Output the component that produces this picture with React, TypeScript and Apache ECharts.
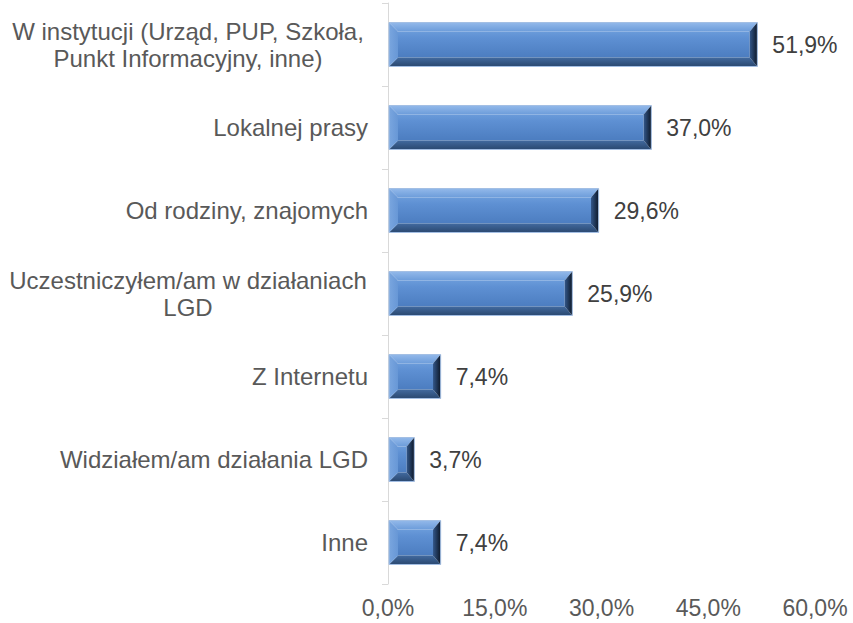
import React, { useEffect, useRef } from 'react';
import * as echarts from 'echarts';

const categories = [
  'W instytucji (Urząd, PUP, Szkoła,\nPunkt Informacyjny, inne)',
  'Lokalnej prasy',
  'Od rodziny, znajomych',
  'Uczestniczyłem/am w działaniach\nLGD',
  'Z Internetu',
  'Widziałem/am działania LGD',
  'Inne',
];
const values = [51.9, 37.0, 29.6, 25.9, 7.4, 3.7, 7.4];
const axisMin = 0;
const axisMax = 60;
const axisStep = 15;

const fmt = (v: number) => v.toFixed(1).replace('.', ',') + '%';

export default function App() {
  const ref = useRef<HTMLDivElement>(null);
  useEffect(() => {
    if (!ref.current) return;
    const chart = echarts.init(ref.current, null, { renderer: 'svg' });
    const textColor = '#595959';
    const font = 'Liberation Sans, Arial, sans-serif';
    const option: any = {
      animation: false,
      grid: { left: 388, right: 38, top: 3, bottom: 39, containLabel: false },
      xAxis: {
        type: 'value',
        min: axisMin,
        max: axisMax,
        interval: axisStep,
        axisLine: { show: false },
        axisTick: { show: false },
        splitLine: { show: false },
        axisLabel: {
          color: textColor,
          fontSize: 23,
          fontFamily: font,
          margin: 12,
          formatter: (v: number) => fmt(v),
        },
      },
      yAxis: {
        type: 'category',
        inverse: true,
        data: categories,
        axisLine: { show: true, lineStyle: { color: '#D9D9D9', width: 1 } },
        axisTick: { show: true, length: 6, lineStyle: { color: '#D9D9D9' } },
        axisLabel: {
          color: textColor,
          fontSize: 24,
          lineHeight: 27,
          fontFamily: font,
          margin: 20,
          formatter: (s: string) =>
            s.includes('\n')
              ? s.split('\n').map((l) => `{c|${l}}`).join('\n')
              : s,
          rich: {
            c: {
              width: 360,
              align: 'center',
              fontSize: 24,
              lineHeight: 27,
              color: textColor,
              fontFamily: font,
            },
          },
        },
      },
      series: [
        {
          type: 'custom',
          data: values.map((v, i) => [v, i]),
          encode: { x: 0, y: 1 },
          renderItem: (params: any, api: any) => {
            const v = api.value(0);
            const idx = api.value(1);
            const p0 = api.coord([0, idx]);
            const p1 = api.coord([v, idx]);
            const band = api.size([0, 1])[1];
            const h = band * 0.53;
            const x0 = p0[0] + 1;
            const x1 = p1[0];
            const y0 = p0[1] - h / 2;
            const y1 = p0[1] + h / 2;
            const b = Math.min(9, (x1 - x0) / 2.2, h / 2.5);
            const br = b * 0.85;
            const LG = echarts.graphic.LinearGradient;
            return {
              type: 'group',
              children: [
                {
                  type: 'rect',
                  shape: { x: x0 + b, y: y0 + b, width: x1 - x0 - b - br, height: y1 - y0 - 2 * b },
                  style: {
                    fill: new LG(0, 0, 0, 1, [
                      { offset: 0, color: '#6A9BDA' },
                      { offset: 0.25, color: '#5E90D3' },
                      { offset: 1, color: '#4C7DC0' },
                    ]),
                  },
                },
                {
                  type: 'polygon',
                  shape: { points: [[x0, y0], [x1, y0], [x1 - br, y0 + b], [x0 + b, y0 + b]] },
                  style: {
                    fill: new LG(0, 0, 0, 1, [
                      { offset: 0, color: '#93B9EA' },
                      { offset: 1, color: '#6C9CDA' },
                    ]),
                  },
                },
                {
                  type: 'polygon',
                  shape: { points: [[x0, y1], [x1, y1], [x1 - br, y1 - b], [x0 + b, y1 - b]] },
                  style: {
                    fill: new LG(0, 0, 0, 1, [
                      { offset: 0, color: '#426A9F' },
                      { offset: 1, color: '#2A4870' },
                    ]),
                  },
                },
                {
                  type: 'polygon',
                  shape: { points: [[x0, y0], [x0 + b, y0 + b], [x0 + b, y1 - b], [x0, y1]] },
                  style: {
                    fill: new LG(0, 0, 1, 0, [
                      { offset: 0, color: '#7AA6DF' },
                      { offset: 1, color: '#6797D6' },
                    ]),
                  },
                },
                {
                  type: 'polygon',
                  shape: { points: [[x1, y0], [x1 - br, y0 + b], [x1 - br, y1 - b], [x1, y1]] },
                  style: {
                    fill: new LG(0, 0, 1, 0, [
                      { offset: 0, color: '#33578A' },
                      { offset: 1, color: '#0D1828' },
                    ]),
                  },
                },
                {
                  type: 'rect',
                  shape: { x: x0, y: y0, width: x1 - x0, height: y1 - y0 },
                  style: { fill: 'none', stroke: '#A3BFE4', lineWidth: 1 },
                },
              ],
            };
          },
          z: 2,
        },
        {
          type: 'bar',
          data: values,
          barWidth: '53%',
          itemStyle: { color: 'rgba(0,0,0,0)' },
          label: {
            show: true,
            position: 'right',
            distance: 15,
            color: '#404040',
            fontSize: 23,
            fontFamily: font,
            formatter: (p: any) => fmt(p.value),
          },
          z: 3,
        },
      ],
    };
    chart.setOption(option);
    return () => chart.dispose();
  }, []);
  return (
    <div
      ref={ref}
      style={{ position: 'fixed', left: 0, top: 0, width: 853, height: 623, background: '#fff' }}
    />
  );
}
